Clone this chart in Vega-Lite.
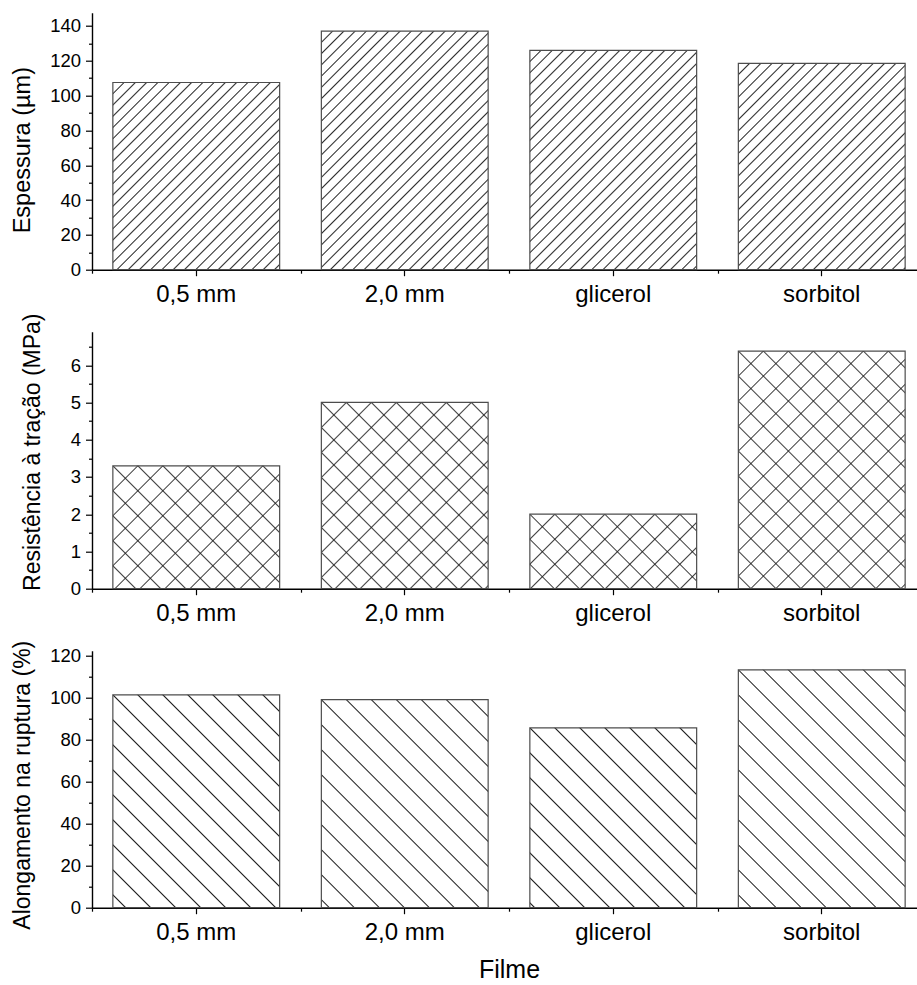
{
  "$schema": "https://vega.github.io/schema/vega-lite/v6.json",
  "autosize": "none",
  "padding": {"left": 92, "top": 12.7, "right": 825, "bottom": 972.3},
  "background": "white",
  "bounds": "flush",
  "spacing": 62,
  "config": {
    "view": {"stroke": null},
    "font": "Liberation Sans",
    "axis": {
      "labelFont": "Liberation Sans",
      "titleFont": "Liberation Sans",
      "labelColor": "#000",
      "titleColor": "#000",
      "tickColor": "#000",
      "domainColor": "#000",
      "tickWidth": 1.2,
      "domainWidth": 1.4,
      "grid": false,
      "titleFontWeight": "normal"
    }
  },
  "params": [
    {"name": "fwd45", "value": [
      {"offset":0.0219,"color":"transparent"},{"offset":0.025,"color":"#333"},{"offset":0.0281,"color":"transparent"},
      {"offset":0.0469,"color":"transparent"},{"offset":0.05,"color":"#333"},{"offset":0.0531,"color":"transparent"},
      {"offset":0.0719,"color":"transparent"},{"offset":0.075,"color":"#333"},{"offset":0.0781,"color":"transparent"},
      {"offset":0.0969,"color":"transparent"},{"offset":0.1,"color":"#333"},{"offset":0.1031,"color":"transparent"},
      {"offset":0.1219,"color":"transparent"},{"offset":0.125,"color":"#333"},{"offset":0.1281,"color":"transparent"},
      {"offset":0.1469,"color":"transparent"},{"offset":0.15,"color":"#333"},{"offset":0.1531,"color":"transparent"},
      {"offset":0.1719,"color":"transparent"},{"offset":0.175,"color":"#333"},{"offset":0.1781,"color":"transparent"},
      {"offset":0.1969,"color":"transparent"},{"offset":0.2,"color":"#333"},{"offset":0.2031,"color":"transparent"},
      {"offset":0.2219,"color":"transparent"},{"offset":0.225,"color":"#333"},{"offset":0.2281,"color":"transparent"},
      {"offset":0.2469,"color":"transparent"},{"offset":0.25,"color":"#333"},{"offset":0.2531,"color":"transparent"},
      {"offset":0.2719,"color":"transparent"},{"offset":0.275,"color":"#333"},{"offset":0.2781,"color":"transparent"},
      {"offset":0.2969,"color":"transparent"},{"offset":0.3,"color":"#333"},{"offset":0.3031,"color":"transparent"},
      {"offset":0.3219,"color":"transparent"},{"offset":0.325,"color":"#333"},{"offset":0.3281,"color":"transparent"},
      {"offset":0.3469,"color":"transparent"},{"offset":0.35,"color":"#333"},{"offset":0.3531,"color":"transparent"},
      {"offset":0.3719,"color":"transparent"},{"offset":0.375,"color":"#333"},{"offset":0.3781,"color":"transparent"},
      {"offset":0.3969,"color":"transparent"},{"offset":0.4,"color":"#333"},{"offset":0.4031,"color":"transparent"},
      {"offset":0.4219,"color":"transparent"},{"offset":0.425,"color":"#333"},{"offset":0.4281,"color":"transparent"},
      {"offset":0.4469,"color":"transparent"},{"offset":0.45,"color":"#333"},{"offset":0.4531,"color":"transparent"},
      {"offset":0.4719,"color":"transparent"},{"offset":0.475,"color":"#333"},{"offset":0.4781,"color":"transparent"},
      {"offset":0.4969,"color":"transparent"},{"offset":0.5,"color":"#333"},{"offset":0.5031,"color":"transparent"},
      {"offset":0.5219,"color":"transparent"},{"offset":0.525,"color":"#333"},{"offset":0.5281,"color":"transparent"},
      {"offset":0.5469,"color":"transparent"},{"offset":0.55,"color":"#333"},{"offset":0.5531,"color":"transparent"},
      {"offset":0.5719,"color":"transparent"},{"offset":0.575,"color":"#333"},{"offset":0.5781,"color":"transparent"},
      {"offset":0.5969,"color":"transparent"},{"offset":0.6,"color":"#333"},{"offset":0.6031,"color":"transparent"},
      {"offset":0.6219,"color":"transparent"},{"offset":0.625,"color":"#333"},{"offset":0.6281,"color":"transparent"},
      {"offset":0.6469,"color":"transparent"},{"offset":0.65,"color":"#333"},{"offset":0.6531,"color":"transparent"},
      {"offset":0.6719,"color":"transparent"},{"offset":0.675,"color":"#333"},{"offset":0.6781,"color":"transparent"},
      {"offset":0.6969,"color":"transparent"},{"offset":0.7,"color":"#333"},{"offset":0.7031,"color":"transparent"},
      {"offset":0.7219,"color":"transparent"},{"offset":0.725,"color":"#333"},{"offset":0.7281,"color":"transparent"},
      {"offset":0.7469,"color":"transparent"},{"offset":0.75,"color":"#333"},{"offset":0.7531,"color":"transparent"},
      {"offset":0.7719,"color":"transparent"},{"offset":0.775,"color":"#333"},{"offset":0.7781,"color":"transparent"},
      {"offset":0.7969,"color":"transparent"},{"offset":0.8,"color":"#333"},{"offset":0.8031,"color":"transparent"},
      {"offset":0.8219,"color":"transparent"},{"offset":0.825,"color":"#333"},{"offset":0.8281,"color":"transparent"},
      {"offset":0.8469,"color":"transparent"},{"offset":0.85,"color":"#333"},{"offset":0.8531,"color":"transparent"},
      {"offset":0.8719,"color":"transparent"},{"offset":0.875,"color":"#333"},{"offset":0.8781,"color":"transparent"},
      {"offset":0.8969,"color":"transparent"},{"offset":0.9,"color":"#333"},{"offset":0.9031,"color":"transparent"}
    ]},
    {"name": "fwd25", "value": [
      {"offset":0.0472,"color":"transparent"},{"offset":0.05,"color":"#222"},{"offset":0.0528,"color":"transparent"},
      {"offset":0.0972,"color":"transparent"},{"offset":0.1,"color":"#222"},{"offset":0.1028,"color":"transparent"},
      {"offset":0.1472,"color":"transparent"},{"offset":0.15,"color":"#222"},{"offset":0.1528,"color":"transparent"},
      {"offset":0.1972,"color":"transparent"},{"offset":0.2,"color":"#222"},{"offset":0.2028,"color":"transparent"},
      {"offset":0.2472,"color":"transparent"},{"offset":0.25,"color":"#222"},{"offset":0.2528,"color":"transparent"},
      {"offset":0.2972,"color":"transparent"},{"offset":0.3,"color":"#222"},{"offset":0.3028,"color":"transparent"},
      {"offset":0.3472,"color":"transparent"},{"offset":0.35,"color":"#222"},{"offset":0.3528,"color":"transparent"},
      {"offset":0.3972,"color":"transparent"},{"offset":0.4,"color":"#222"},{"offset":0.4028,"color":"transparent"},
      {"offset":0.4472,"color":"transparent"},{"offset":0.45,"color":"#222"},{"offset":0.4528,"color":"transparent"},
      {"offset":0.4972,"color":"transparent"},{"offset":0.5,"color":"#222"},{"offset":0.5028,"color":"transparent"},
      {"offset":0.5472,"color":"transparent"},{"offset":0.55,"color":"#222"},{"offset":0.5528,"color":"transparent"},
      {"offset":0.5972,"color":"transparent"},{"offset":0.6,"color":"#222"},{"offset":0.6028,"color":"transparent"},
      {"offset":0.6472,"color":"transparent"},{"offset":0.65,"color":"#222"},{"offset":0.6528,"color":"transparent"},
      {"offset":0.6972,"color":"transparent"},{"offset":0.7,"color":"#222"},{"offset":0.7028,"color":"transparent"},
      {"offset":0.7472,"color":"transparent"},{"offset":0.75,"color":"#222"},{"offset":0.7528,"color":"transparent"},
      {"offset":0.7972,"color":"transparent"},{"offset":0.8,"color":"#222"},{"offset":0.8028,"color":"transparent"}
    ]},
    {"name": "back25", "value": [
      {"offset":0.0308,"color":"transparent"},{"offset":0.0336,"color":"#222"},{"offset":0.0364,"color":"transparent"},
      {"offset":0.0808,"color":"transparent"},{"offset":0.0836,"color":"#222"},{"offset":0.0864,"color":"transparent"},
      {"offset":0.1308,"color":"transparent"},{"offset":0.1336,"color":"#222"},{"offset":0.1364,"color":"transparent"},
      {"offset":0.1808,"color":"transparent"},{"offset":0.1836,"color":"#222"},{"offset":0.1864,"color":"transparent"},
      {"offset":0.2308,"color":"transparent"},{"offset":0.2336,"color":"#222"},{"offset":0.2364,"color":"transparent"},
      {"offset":0.2808,"color":"transparent"},{"offset":0.2836,"color":"#222"},{"offset":0.2864,"color":"transparent"},
      {"offset":0.3308,"color":"transparent"},{"offset":0.3336,"color":"#222"},{"offset":0.3364,"color":"transparent"},
      {"offset":0.3808,"color":"transparent"},{"offset":0.3836,"color":"#222"},{"offset":0.3864,"color":"transparent"},
      {"offset":0.4308,"color":"transparent"},{"offset":0.4336,"color":"#222"},{"offset":0.4364,"color":"transparent"},
      {"offset":0.4808,"color":"transparent"},{"offset":0.4836,"color":"#222"},{"offset":0.4864,"color":"transparent"},
      {"offset":0.5308,"color":"transparent"},{"offset":0.5336,"color":"#222"},{"offset":0.5364,"color":"transparent"},
      {"offset":0.5808,"color":"transparent"},{"offset":0.5836,"color":"#222"},{"offset":0.5864,"color":"transparent"},
      {"offset":0.6308,"color":"transparent"},{"offset":0.6336,"color":"#222"},{"offset":0.6364,"color":"transparent"},
      {"offset":0.6808,"color":"transparent"},{"offset":0.6836,"color":"#222"},{"offset":0.6864,"color":"transparent"},
      {"offset":0.7308,"color":"transparent"},{"offset":0.7336,"color":"#222"},{"offset":0.7364,"color":"transparent"},
      {"offset":0.7808,"color":"transparent"},{"offset":0.7836,"color":"#222"},{"offset":0.7864,"color":"transparent"},
      {"offset":0.8308,"color":"transparent"},{"offset":0.8336,"color":"#222"},{"offset":0.8364,"color":"transparent"}
    ]}
  ],
  "data": {"values": [
    {"Filme": "0,5 mm", "Espessura": 107.5, "Resistencia": 3.3, "Alongamento": 101.3},
    {"Filme": "2,0 mm", "Espessura": 137, "Resistencia": 5.0, "Alongamento": 99},
    {"Filme": "glicerol", "Espessura": 126, "Resistencia": 2.0, "Alongamento": 85.6},
    {"Filme": "sorbitol", "Espessura": 118.5, "Resistencia": 6.38, "Alongamento": 113.2}
  ]},
  "vconcat": [
    {
      "width": 834,
      "height": 257,
      "layer": [
        {
          "mark": {"type": "bar", "strokeWidth": 0,
            "fill": {"expr": "datum.Filme === '0,5 mm' ? {gradient: 'linear', x1: 0, y1: 0, x2: 1.1941, y2: 1.34, stops: fwd45} : datum.Filme === '2,0 mm' ? {gradient: 'linear', x1: 0, y1: 0, x2: 0.88594, y2: 1.26698, stops: fwd45} : datum.Filme === 'glicerol' ? {gradient: 'linear', x1: 0, y1: 0, x2: 0.98822, y2: 1.2998, stops: fwd45} : {gradient: 'linear', x1: 0, y1: 0, x2: 1.06629, y2: 1.31898, stops: fwd45}"}},
          "encoding": {
            "x": {"field": "Filme", "type": "nominal", "sort": null,
              "scale": {"paddingInner": 0.2, "paddingOuter": 0.1},
              "axis": {"orient": "bottom", "title": null, "labelAngle": 0, "labelFontSize": 24, "labelPadding": 7, "tickSize": 6}},
            "y": {"field": "Espessura", "type": "quantitative",
              "scale": {"domain": [0, 147.6], "nice": false},
              "axis": {"orient": "left", "values": [0, 20, 40, 60, 80, 100, 120, 140], "tickSize": 6.5, "labelPadding": 5, "labelFontSize": 18.5,
                "title": "Espessura (µm)", "titleFontSize": 23.5, "titleAngle": 270, "titleAlign": "center", "titleBaseline": "alphabetic", "titleX": -63, "titleY": 137}}
          }
        },
        {
          "mark": {"type": "bar", "filled": false, "color": "#4d4d4d", "strokeWidth": 1.2},
          "encoding": {
            "x": {"field": "Filme", "type": "nominal", "sort": null,
              "axis": {"orient": "bottom", "title": null, "labels": false, "domain": false, "tickSize": 3.5, "bandPosition": 0, "tickOffset": -20.85}},
            "y": {"field": "Espessura", "type": "quantitative",
              "axis": {"orient": "left", "values": [10, 30, 50, 70, 90, 110, 130], "labels": false, "domain": false, "title": null, "tickSize": 3.5}}
          }
        }
      ],
      "resolve": {"axis": {"x": "independent", "y": "independent"}}
    },
    {
      "width": 834,
      "height": 257,
      "layer": [
        {
          "mark": {"type": "bar", "strokeWidth": 0, "fillOpacity": 0.85,
            "fill": {"expr": "datum.Filme === '0,5 mm' ? {gradient: 'linear', x1: 0, y1: 0, x2: 1.94272, y2: 1.43153, stops: fwd25} : datum.Filme === '2,0 mm' ? {gradient: 'linear', x1: 0, y1: 0, x2: 1.33432, y2: 1.48975, stops: fwd25} : datum.Filme === 'glicerol' ? {gradient: 'linear', x1: 0, y1: 0, x2: 2.49916, y2: 1.11608, stops: fwd25} : {gradient: 'linear', x1: 0, y1: 0, x2: 0.98944, y2: 1.4096, stops: fwd25}"}},
          "encoding": {
            "x": {"field": "Filme", "type": "nominal", "sort": null,
              "scale": {"paddingInner": 0.2, "paddingOuter": 0.1},
              "axis": {"orient": "bottom", "title": null, "labelAngle": 0, "labelFontSize": 24, "labelPadding": 7, "tickSize": 6}},
            "y": {"field": "Resistencia", "type": "quantitative",
              "scale": {"domain": [0, 6.9], "nice": false},
              "axis": {"orient": "left", "values": [0, 1, 2, 3, 4, 5, 6], "tickSize": 6.5, "labelPadding": 5, "labelFontSize": 18.5,
                "title": "Resistência à tração (MPa)", "titleFontSize": 23, "titleAngle": 270, "titleAlign": "center", "titleBaseline": "alphabetic", "titleX": -53, "titleY": 120}}
          }
        },
        {
          "mark": {"type": "bar", "stroke": "#4d4d4d", "strokeWidth": 1.2, "fillOpacity": 0.85,
            "fill": {"expr": "datum.Filme === '0,5 mm' ? {gradient: 'linear', x1: 1, y1: 0, x2: -0.94272, y2: 1.43153, stops: back25} : datum.Filme === '2,0 mm' ? {gradient: 'linear', x1: 1, y1: 0, x2: -0.33432, y2: 1.48975, stops: back25} : datum.Filme === 'glicerol' ? {gradient: 'linear', x1: 1, y1: 0, x2: -1.49916, y2: 1.11608, stops: back25} : {gradient: 'linear', x1: 1, y1: 0, x2: 0.01056, y2: 1.4096, stops: back25}"}},
          "encoding": {
            "x": {"field": "Filme", "type": "nominal", "sort": null,
              "axis": {"orient": "bottom", "title": null, "labels": false, "domain": false, "tickSize": 3.5, "bandPosition": 0, "tickOffset": -20.85}},
            "y": {"field": "Resistencia", "type": "quantitative",
              "axis": {"orient": "left", "values": [0.5, 1.5, 2.5, 3.5, 4.5, 5.5, 6.5], "labels": false, "domain": false, "title": null, "tickSize": 3.5}}
          }
        }
      ],
      "resolve": {"axis": {"x": "independent", "y": "independent"}}
    },
    {
      "width": 834,
      "height": 257,
      "layer": [
        {
          "mark": {"type": "bar", "strokeWidth": 0,
            "fill": {"expr": "datum.Filme === '0,5 mm' ? {gradient: 'linear', x1: 1, y1: 0, x2: -0.14034, y2: 1.45531, stops: back25} : datum.Filme === '2,0 mm' ? {gradient: 'linear', x1: 1, y1: 0, x2: -0.17295, y2: 1.46296, stops: back25} : datum.Filme === 'glicerol' ? {gradient: 'linear', x1: 1, y1: 0, x2: -0.38586, y2: 1.49453, stops: back25} : {gradient: 'linear', x1: 1, y1: 0, x2: 0.01194, y2: 1.40911, stops: back25}"}},
          "encoding": {
            "x": {"field": "Filme", "type": "nominal", "sort": null,
              "scale": {"paddingInner": 0.2, "paddingOuter": 0.1},
              "axis": {"orient": "bottom", "title": "Filme", "labelAngle": 0, "labelFontSize": 24, "labelPadding": 7, "tickSize": 6,
                "titleFontSize": 25, "titleBaseline": "alphabetic", "titleY": 70}},
            "y": {"field": "Alongamento", "type": "quantitative",
              "scale": {"domain": [0, 122.3], "nice": false},
              "axis": {"orient": "left", "values": [0, 20, 40, 60, 80, 100, 120], "tickSize": 6.5, "labelPadding": 5, "labelFontSize": 18.5,
                "title": "Alongamento na ruptura (%)", "titleFontSize": 23, "titleAngle": 270, "titleAlign": "center", "titleBaseline": "alphabetic", "titleX": -63, "titleY": 134}}
          }
        },
        {
          "mark": {"type": "bar", "filled": false, "color": "#4d4d4d", "strokeWidth": 1.2},
          "encoding": {
            "x": {"field": "Filme", "type": "nominal", "sort": null,
              "axis": {"orient": "bottom", "title": null, "labels": false, "domain": false, "tickSize": 3.5, "bandPosition": 0, "tickOffset": -20.85}},
            "y": {"field": "Alongamento", "type": "quantitative",
              "axis": {"orient": "left", "values": [10, 30, 50, 70, 90, 110], "labels": false, "domain": false, "title": null, "tickSize": 3.5}}
          }
        }
      ],
      "resolve": {"axis": {"x": "independent", "y": "independent"}}
    }
  ]
}
